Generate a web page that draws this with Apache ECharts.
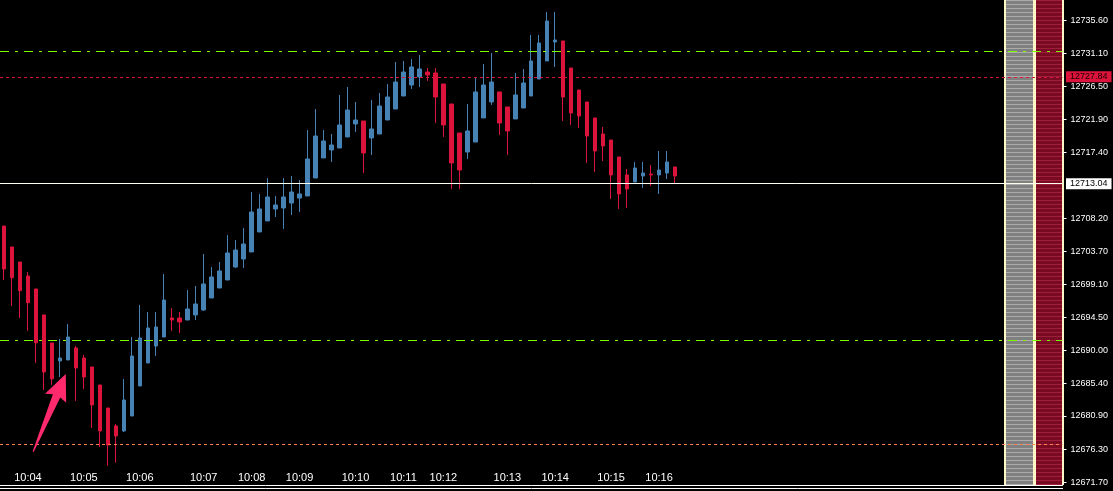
<!DOCTYPE html>
<html><head><meta charset="utf-8">
<script src="https://cdn.jsdelivr.net/npm/echarts@6/dist/echarts.min.js"></script>
<style>html,body{margin:0;padding:0;background:#000;overflow:hidden}#c{width:1113px;height:491px}</style>
</head><body><div id="c"></div>
<script>
// ---- data ----
const openP = [12707.18,12704.28,12702.20,12700.26,12698.47,12694.87,12690.99,12688.50,12688.64,12690.30,
12688.91,12687.67,12685.18,12681.99,12679.50,12678.81,12680.88,12685.04,12688.22,12690.57,
12691.82,12694.45,12694.45,12694.17,12694.87,12695.56,12697.22,12698.60,12699.71,12701.51,
12702.62,12703.59,12706.36,12707.88,12709.54,12709.68,12710.37,12711.06,12711.34,12713.83,
12716.60,12717.71,12717.98,12719.51,12721.31,12721.72,12719.37,12719.92,12721.86,12723.38,
12725.18,12726.70,12727.81,12728.50,12728.37,12726.84,12724.07,12720.06,12717.43,12718.81,
12722.14,12724.35,12725.74,12723.66,12722.00,12723.52,12725.18,12727.53,12730.03,12732.66,
12732.80,12729.06,12726.01,12724.35,12722.14,12719.92,12719.09,12716.74,12714.25,12713.28,
12714.11,12714.38,12714.25,12714.52,12715.35];
const closeP = [12701.23,12700.03,12698.23,12696.57,12691.03,12686.98,12686.01,12688.91,12691.82,12687.53,
12686.28,12682.41,12678.81,12676.87,12678.12,12683.10,12689.19,12691.68,12693.07,12693.20,
12696.94,12694.17,12693.90,12695.70,12696.39,12699.16,12700.13,12700.96,12703.45,12703.86,
12704.69,12709.12,12709.54,12711.20,12710.09,12711.20,12711.89,12711.62,12716.46,12719.64,
12718.95,12718.40,12721.17,12723.24,12721.86,12717.29,12720.61,12723.80,12725.04,12727.12,
12728.50,12729.20,12728.92,12728.09,12725.04,12721.17,12715.91,12714.94,12720.34,12725.74,
12726.70,12727.12,12721.44,12720.34,12725.32,12726.98,12730.03,12732.52,12735.56,12732.93,
12725.04,12722.83,12722.41,12719.64,12717.57,12718.26,12714.25,12711.62,12712.31,12715.21,
12714.52,12714.25,12714.94,12716.05,12714.11];
const lowP = [12699.71,12696.11,12694.45,12692.65,12688.22,12684.49,12685.18,12686.28,12688.64,12682.96,
12684.62,12679.22,12676.59,12674.00,12674.42,12678.67,12680.88,12685.04,12688.22,12689.19,
12691.82,12692.65,12692.37,12694.17,12694.17,12695.42,12697.22,12698.60,12699.71,12701.37,
12701.37,12703.59,12706.36,12707.88,12708.43,12706.77,12708.71,12709.12,12711.34,12713.83,
12716.60,12716.05,12717.98,12719.51,12720.20,12714.52,12717.01,12719.92,12721.86,12723.38,
12725.18,12726.15,12726.43,12727.26,12721.44,12719.51,12712.31,12712.31,12716.46,12718.81,
12722.14,12723.94,12719.78,12717.01,12722.00,12723.52,12725.18,12727.53,12730.03,12729.20,
12721.72,12721.17,12720.75,12715.91,12714.66,12716.18,12710.92,12709.54,12709.68,12713.28,
12712.45,12712.72,12711.62,12713.69,12713.00];
const highP = [12707.18,12704.28,12702.20,12700.82,12698.47,12694.87,12690.99,12691.54,12693.62,12690.57,
12689.33,12687.67,12685.18,12681.99,12679.78,12686.01,12691.82,12696.25,12695.28,12695.28,
12700.54,12695.83,12695.28,12698.33,12698.88,12703.31,12701.51,12702.20,12705.94,12705.25,
12706.91,12711.89,12711.62,12713.83,12711.34,12713.83,12714.11,12713.55,12720.47,12723.38,
12720.47,12719.92,12725.32,12726.43,12724.35,12721.72,12724.63,12725.60,12726.84,12729.89,
12730.03,12730.30,12730.86,12729.06,12729.06,12726.84,12724.07,12720.06,12724.07,12727.81,
12729.61,12731.13,12725.74,12723.66,12728.37,12728.92,12733.63,12733.63,12736.81,12736.81,
12732.80,12729.06,12726.01,12724.35,12722.14,12720.89,12719.09,12716.74,12715.08,12716.05,
12716.05,12715.63,12717.57,12717.57,12715.35];
const timeLabels = ['10:04','10:05','10:06','10:07','10:08','10:09','10:10','10:11','10:12','10:13','10:14','10:15','10:16'];
const timeLabelIndex = [3,10,17,25,31,37,44,50,55,63,69,76,82];
const priceTicks = [12735.6,12731.1,12726.5,12721.9,12717.4,12708.2,12703.7,12699.1,12694.5,12690.0,12685.4,12680.9,12676.3,12671.7];
const bidPrice = 12713.04;
const redLevel = 12727.84;
const greenLevels = [12731.37, 12691.36];
const orangeLevel = 12676.96;
const arrowTail = [3.65, 12675.94];
const arrowTip = [7.73, 12686.70];
const slotCount = 133;
const yMin = 12671.33, yMax = 12738.47;

// ---- build ----
const cats = [];
for (let i = 0; i < slotCount; i++) cats.push(String(i));
const labelMap = {};
timeLabelIndex.forEach((idx, j) => { labelMap[idx] = timeLabels[j]; });
const candles = openP.map((o, i) => [o, closeP[i], lowP[i], highP[i]]);

function stripes(base, line, h) {
  const c = document.createElement('canvas');
  c.width = 4; c.height = h;
  const g = c.getContext('2d');
  g.fillStyle = base; g.fillRect(0, 0, 4, h);
  g.fillStyle = line; g.fillRect(0, 0, 4, 1);
  return c;
}
const grayPat = stripes('#808080', '#ABABAB', 4);
const redPat = stripes('#780A22', '#9E1E3C', 4);

const chart = echarts.init(document.getElementById('c'), null, {renderer: 'canvas'});
const FONT = 'Liberation Sans, Arial, sans-serif';
const cream = '#FFF6C8';

chart.setOption({
  backgroundColor: '#000000',
  animation: false,
  grid: {left: -1.5, right: 50.5, top: 0, bottom: 6, containLabel: false},
  xAxis: [{
    type: 'category', data: cats, boundaryGap: true,
    axisLine: {show: true, onZero: false, lineStyle: {color: '#FFFFFF', width: 1}},
    axisTick: {show: false},
    splitLine: {show: false},
    axisLabel: {
      inside: true, interval: 0, margin: 2,
      color: '#FFFFFF', fontSize: 11, fontFamily: FONT,
      formatter: (v, i) => labelMap[i] || ''
    }
  }, {
    type: 'value', min: -0.5, max: slotCount - 0.5, show: false,
    axisLine: {show: false, onZero: false}, splitLine: {show: false}
  }],
  yAxis: {
    type: 'value', position: 'right', min: yMin, max: yMax, scale: true,
    axisLine: {show: true, onZero: false, lineStyle: {color: cream, width: 1}},
    axisTick: {show: true, inside: false, length: 4, customValues: priceTicks, lineStyle: {color: '#FFFFFF'}},
    splitLine: {show: false},
    axisLabel: {
      customValues: priceTicks, margin: 8, color: '#FFFFFF', fontSize: 9, fontFamily: FONT,
      formatter: v => Number(v).toFixed(2)
    }
  },
  graphic: [
    {type: 'rect', shape: {x: 1004, y: 0, width: 2, height: 485}, style: {fill: cream}, z: 0},
    {type: 'rect', shape: {x: 1006, y: 0, width: 27, height: 485}, style: {fill: {image: grayPat, repeat: 'repeat'}}, z: 0},
    {type: 'rect', shape: {x: 1033, y: 0, width: 3, height: 485}, style: {fill: cream}, z: 0},
    {type: 'rect', shape: {x: 1036, y: 0, width: 26, height: 485}, style: {fill: {image: redPat, repeat: 'repeat'}}, z: 0},
    {type: 'rect', shape: {x: 1062, y: 0, width: 2, height: 485}, style: {fill: cream}, z: 0},
    {type: 'line', shape: {x1: 0, y1: 488.5, x2: 1063, y2: 488.5}, style: {stroke: '#FFFFFF', lineWidth: 1}, z: 0}
  ],
  series: [{
    type: 'candlestick',
    xAxisIndex: 0, yAxisIndex: 0,
    data: candles,
    barWidth: 4,
    itemStyle: {color: '#4682B4', color0: '#DC143C', borderColor: '#4682B4', borderColor0: '#DC143C', borderWidth: 1},
    markLine: {
      silent: true, symbol: ['none', 'none'], animation: false,
      data: [
        {yAxis: greenLevels[0], lineStyle: {color: '#7CFC00', type: [9, 6, 3, 6], width: 1}, label: {show: false}},
        {yAxis: greenLevels[1], lineStyle: {color: '#7CFC00', type: [9, 6, 3, 6], width: 1}, label: {show: false}},
        {yAxis: orangeLevel, lineStyle: {color: '#FF7F50', type: [3, 3], width: 1}, label: {show: false}},
        {yAxis: bidPrice, lineStyle: {color: '#FFFFF0', type: 'solid', width: 1},
          label: {show: true, position: 'end', distance: 3.5, formatter: bidPrice.toFixed(2), color: '#000000',
            backgroundColor: '#FFFFFF', padding: [1, 4, 0, 4], fontSize: 9, lineHeight: 10, fontFamily: FONT}},
        {yAxis: redLevel, lineStyle: {color: '#DC143C', type: [3, 3], width: 1},
          label: {show: true, position: 'end', distance: 3.5, formatter: redLevel.toFixed(2), color: '#1a0000',
            backgroundColor: '#DC143C', padding: [1, 4, 0, 4], fontSize: 9, lineHeight: 10, fontFamily: FONT}}
      ]
    }
  }, {
    type: 'custom',
    xAxisIndex: 1, yAxisIndex: 0,
    silent: true, z: 5,
    encode: {x: [0, 2], y: [1, 3]},
    data: [[arrowTail[0], arrowTail[1], arrowTip[0], arrowTip[1]]],
    renderItem: function (params, api) {
      const a = api.coord([api.value(0), api.value(1)]);
      const b = api.coord([api.value(2), api.value(3)]);
      const dx = b[0] - a[0], dy = b[1] - a[1];
      const L = Math.hypot(dx, dy);
      const ux = dx / L, uy = dy / L, nx = -uy, ny = ux;
      const shape = [[0, -0.6], [0.718, -4], [0.688, -11.5], [1, 0], [0.688, 11.5], [0.718, 4], [0, 0.6]];
      const pts = shape.map(p => [a[0] + ux * p[0] * L + nx * p[1], a[1] + uy * p[0] * L + ny * p[1]]);
      return {type: 'polygon', shape: {points: pts}, style: {fill: '#FF2A6D'}};
    }
  }]
});
</script>
</body></html>
